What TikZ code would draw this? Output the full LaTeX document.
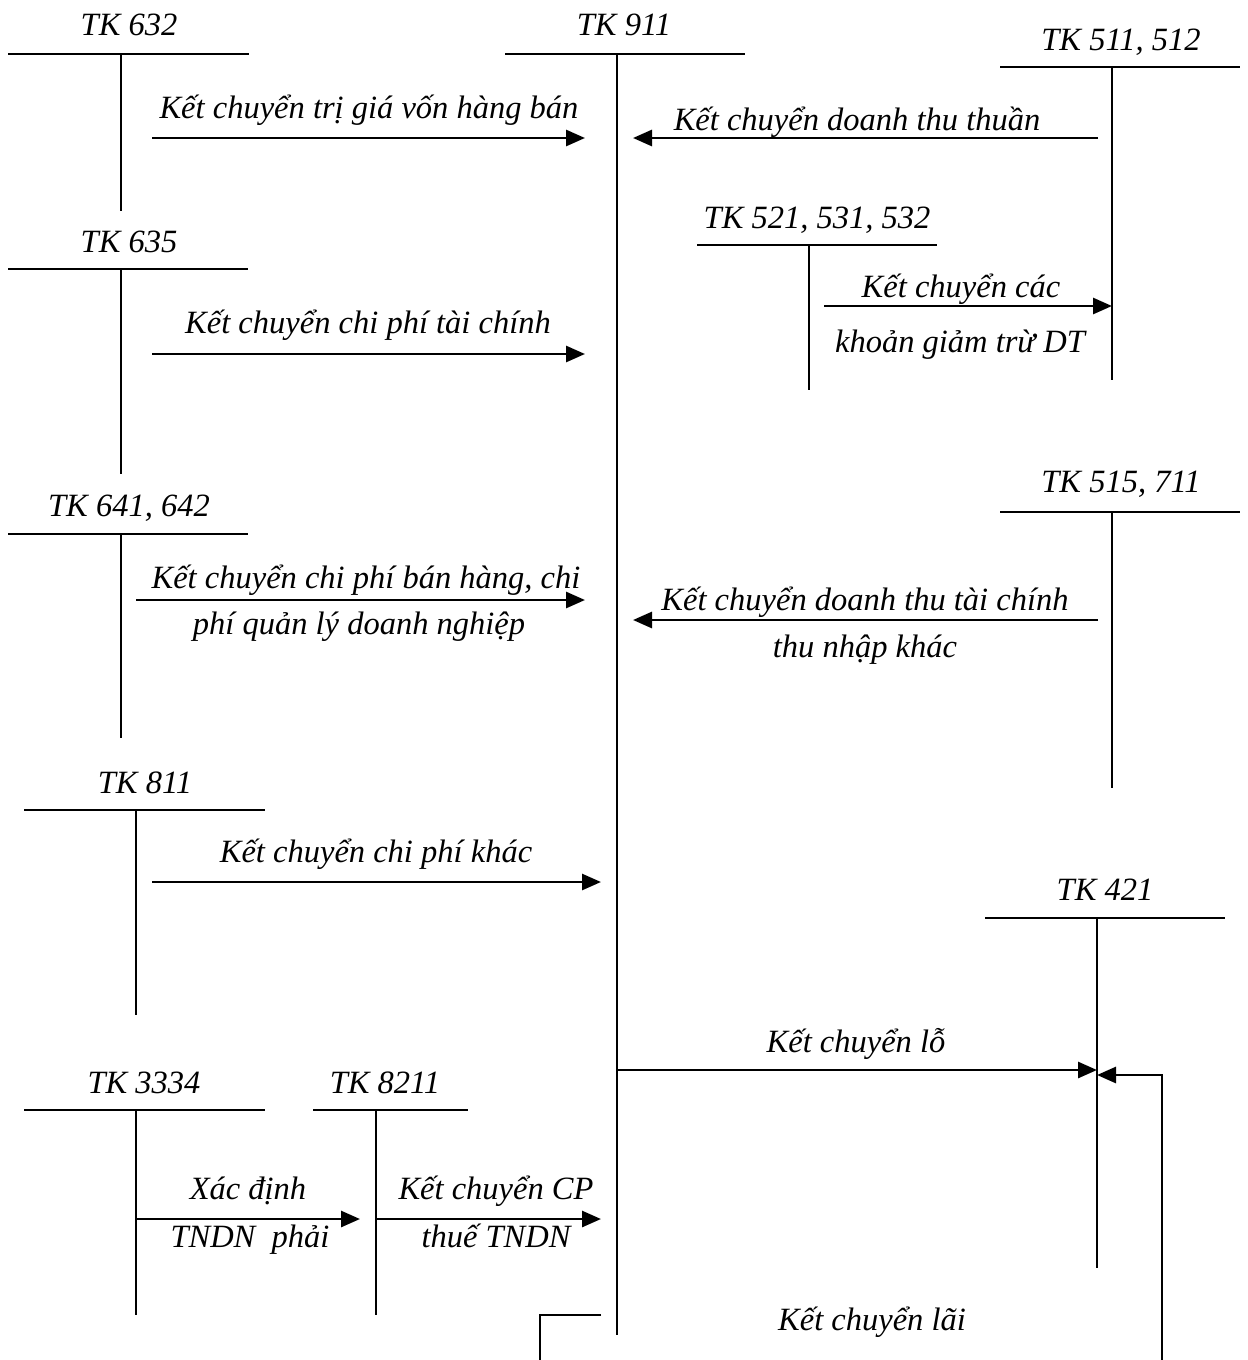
\documentclass[tikz,border=0pt]{standalone}
\usepackage{fontspec}
\setmainfont{Liberation Serif}
\usetikzlibrary{arrows.meta}
\tikzset{
  txt/.style={font=\fontsize{18.5}{22}\selectfont\itshape, anchor=base, inner sep=0pt},
  trule/.style={line width=1.2pt},
  flow/.style={line width=1.6pt, -{Triangle[length=0.38cm,width=0.32cm]}},
}
\begin{document}
\begin{tikzpicture}[x=0.02cm, y=-0.02cm]
\useasboundingbox (0,0) rectangle (1248,1360);
% T accounts
\node[txt] (t632) at (129,35) {TK 632};
\draw[trule] (8,54) -- (249,54) (121,54) -- (121,211);
\node[txt] (t911) at (624,35) {TK 911};
\draw[trule] (505,54) -- (745,54) (617,54) -- (617,1335);
\node[txt] (t511) at (1121,50) {TK 511, 512};
\draw[trule] (1000,67) -- (1240,67) (1112,67) -- (1112,380);
\node[txt] (t635) at (129,252) {TK 635};
\draw[trule] (8,269) -- (248,269) (121,269) -- (121,474);
\node[txt] (t521) at (817,228) {TK 521, 531, 532};
\draw[trule] (697,245) -- (937,245) (809,245) -- (809,390);
\node[txt] (t641) at (129,516) {TK 641, 642};
\draw[trule] (8,534) -- (248,534) (121,534) -- (121,738);
\node[txt] (t515) at (1121,492) {TK 515, 711};
\draw[trule] (1000,512) -- (1240,512) (1112,512) -- (1112,788);
\node[txt] (t811) at (145,793) {TK 811};
\draw[trule] (24,810) -- (265,810) (136,810) -- (136,1015);
\node[txt] (t421) at (1105,900) {TK 421};
\draw[trule] (985,918) -- (1225,918) (1097,918) -- (1097,1268);
\node[txt] (t3334) at (144,1093) {TK 3334};
\draw[trule] (24,1110) -- (265,1110) (136,1110) -- (136,1315);
\node[txt] (t8211) at (385,1093) {TK 8211};
\draw[trule] (313,1110) -- (468,1110) (376,1110) -- (376,1315);
% arrow ends
\coordinate (vonS) at (152,138);   \coordinate (vonE) at (585,138);
\coordinate (dtS) at (1098,138);   \coordinate (dtE) at (633,138);
\coordinate (tcS) at (152,354);    \coordinate (tcE) at (585,354);
\coordinate (gtS) at (824,306);    \coordinate (gtE) at (1112,306);
\coordinate (bhS) at (136,600);    \coordinate (bhE) at (585,600);
\coordinate (dtcS) at (1098,620);  \coordinate (dtcE) at (633,620);
\coordinate (cpkS) at (152,882);   \coordinate (cpkE) at (601,882);
\coordinate (loS) at (617,1070);   \coordinate (loE) at (1097,1070);
\coordinate (laiS) at (1162,1360); \coordinate (laiE) at (1097,1075);
\coordinate (laiL) at (601,1315);  \coordinate (laiB) at (540,1360);
\coordinate (tnS) at (136,1219);   \coordinate (tnE) at (360,1219);
\coordinate (cpS) at (376,1219);   \coordinate (cpE) at (601,1219);
% arrows
\draw[flow] (vonS) -- (vonE);
\draw[flow] (dtS) -- (dtE);
\draw[flow] (tcS) -- (tcE);
\draw[flow] (gtS) -- (gtE);
\draw[flow] (bhS) -- (bhE);
\draw[flow] (dtcS) -- (dtcE);
\draw[flow] (cpkS) -- (cpkE);
\draw[flow] (loS) -- (loE);
\draw[trule] (laiS) -- (laiS |- laiE);
\draw[flow] ([xshift=0.6pt]laiS |- laiE) -- (laiE);
\draw[trule] (laiL) -| (laiB);
\draw[flow] (tnS) -- (tnE);
\draw[flow] (cpS) -- (cpE);
% labels
\node[txt] (lvon) at (369,118) {Kết chuyển trị giá vốn hàng bán};
\node[txt] (ldt) at (857,130) {Kết chuyển doanh thu thuần};
\node[txt] (ltc) at (368,333) {Kết chuyển chi phí tài chính};
\node[txt] (lgt1) at (961,297) {Kết chuyển các};
\node[txt] (lgt2) at (960,352) {khoản giảm trừ DT};
\node[txt] (lbh1) at (366,588) {Kết chuyển chi phí bán hàng, chi};
\node[txt] (lbh2) at (359,634) {phí quản lý doanh nghiệp};
\node[txt] (ldtc1) at (865,610) {Kết chuyển doanh thu tài chính};
\node[txt] (ldtc2) at (865,657) {thu nhập khác};
\node[txt] (lcpk) at (376,862) {Kết chuyển chi phí khác};
\node[txt] (llo) at (856,1052) {Kết chuyển lỗ};
\node[txt] (ltn1) at (248,1199) {Xác định};
\node[txt] (ltn2) at (250,1247) {TNDN\ \ phải};
\node[txt] (lcp1) at (496,1199) {Kết chuyển CP};
\node[txt] (lcp2) at (496,1247) {thuế TNDN};
\node[txt] (llai) at (872,1330) {Kết chuyển lãi};
\end{tikzpicture}
\end{document}
